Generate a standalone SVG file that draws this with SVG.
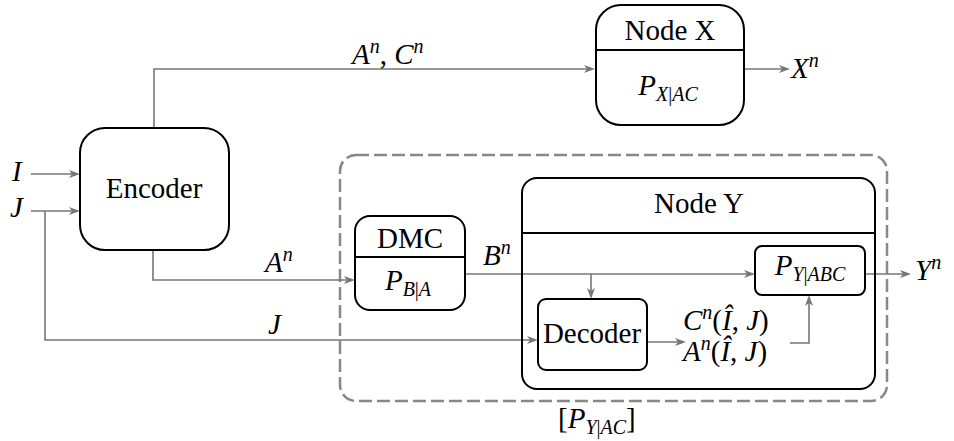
<svg xmlns="http://www.w3.org/2000/svg" width="954" height="441" viewBox="0 0 954 441" font-family="Liberation Serif" font-size="29">
<style>
.box{fill:#fff;stroke:#000;stroke-width:2}
.c{fill:none;stroke:#777;stroke-width:1.6}
.dash{fill:none;stroke:#888;stroke-width:2.5;stroke-dasharray:13 5}
</style>
<defs>
<path id="ah" d="M0,0 L-11,-4 L-8,0 L-11,4 z" fill="#777"/>
</defs>
<rect class="dash" x="340" y="155" width="547" height="246" rx="16"/>
<g id="connectors">
<path class="c" d="M31,174 H76"/><use href="#ah" transform="translate(80,174)"/>
<path class="c" d="M31,211 H76"/><use href="#ah" transform="translate(80,211)"/>
<path class="c" d="M154,128 V69 H591"/><use href="#ah" transform="translate(595,69)"/>
<path class="c" d="M744,69 H786"/><use href="#ah" transform="translate(790,69)"/>
<path class="c" d="M153,250 V280 H351"/><use href="#ah" transform="translate(355,280)"/>
<path class="c" d="M45,211 V340 H534"/><use href="#ah" transform="translate(538,340)"/>
<path class="c" d="M465,274 H751"/><use href="#ah" transform="translate(755,274)"/>
<path class="c" d="M591,274 V295"/><use href="#ah" transform="translate(591,299) rotate(90)"/>
<path class="c" d="M647,342 H682"/><use href="#ah" transform="translate(686,342)"/>
<path class="c" d="M790,343 H809 V299"/><use href="#ah" transform="translate(809,295) rotate(-90)"/>
<path class="c" d="M865,274 H907"/><use href="#ah" transform="translate(911,274)"/>
</g>
<g id="labels" font-style="italic">
<text x="12" y="181">I</text>
<text x="10" y="217">J</text>
<text x="352" y="64">A<tspan font-size="20" dy="-11">n</tspan><tspan dy="11" font-style="normal">, </tspan>C<tspan font-size="20" dy="-11">n</tspan></text>
<text x="791" y="78">X<tspan font-size="20" dy="-11">n</tspan></text>
<text x="265" y="272">A<tspan font-size="20" dy="-11">n</tspan></text>
<text x="268" y="334">J</text>
<text x="483" y="265">B<tspan font-size="20" dy="-11">n</tspan></text>
<text x="915" y="280">Y<tspan font-size="20" dy="-11">n</tspan></text>
<text x="683" y="330">C<tspan font-size="20" dy="-11">n</tspan><tspan dy="11" font-style="normal">(</tspan>Î<tspan font-style="normal">, </tspan>J<tspan font-style="normal">)</tspan></text>
<text x="683" y="361">A<tspan font-size="20" dy="-11">n</tspan><tspan dy="11" font-style="normal">(</tspan>Î<tspan font-style="normal">, </tspan>J<tspan font-style="normal">)</tspan></text>
<text x="558" y="428"><tspan font-style="normal">[</tspan>P<tspan dy="6" font-size="20">Y</tspan><tspan font-size="20" font-style="normal">|</tspan><tspan font-size="20">AC</tspan><tspan dy="-6" font-style="normal">]</tspan></text>
</g>
<g id="encoder">
<rect class="box" x="80" y="128" width="149" height="122" rx="25"/>
<text x="154" y="198" text-anchor="middle">Encoder</text>
</g>
<g id="nodeX">
<rect class="box" x="596" y="5" width="148" height="120" rx="25"/>
<line x1="596" y1="50" x2="744" y2="50" stroke="#000" stroke-width="2"/>
<text x="670" y="40" text-anchor="middle">Node X</text>
<text x="668" y="95" text-anchor="middle" font-style="italic">P<tspan dy="6" font-size="20">X</tspan><tspan font-size="20" font-style="normal">|</tspan><tspan font-size="20">AC</tspan></text>
</g>
<g id="nodeY">
<rect x="522" y="178" width="353" height="211" rx="15" fill="none" stroke="#000" stroke-width="2"/>
<line x1="522" y1="233" x2="875" y2="233" stroke="#000" stroke-width="2"/>
<text x="699" y="213" text-anchor="middle">Node Y</text>
</g>
<g id="dmc">
<rect class="box" x="355" y="216" width="110" height="94" rx="15"/>
<line x1="355" y1="257" x2="465" y2="257" stroke="#000" stroke-width="2"/>
<text x="410" y="248" text-anchor="middle">DMC</text>
<text x="408" y="290" text-anchor="middle" font-style="italic">P<tspan dy="6" font-size="20">B</tspan><tspan font-size="20" font-style="normal">|</tspan><tspan font-size="20">A</tspan></text>
</g>
<g id="pyabc">
<rect class="box" x="755" y="246" width="110" height="49" rx="7"/>
<text x="810" y="275" text-anchor="middle" font-style="italic">P<tspan dy="6" font-size="20">Y</tspan><tspan font-size="20" font-style="normal">|</tspan><tspan font-size="20">ABC</tspan></text>
</g>
<g id="decoder">
<rect class="box" x="538" y="299" width="109" height="71" rx="8"/>
<text x="592" y="343" text-anchor="middle">Decoder</text>
</g>
</svg>
